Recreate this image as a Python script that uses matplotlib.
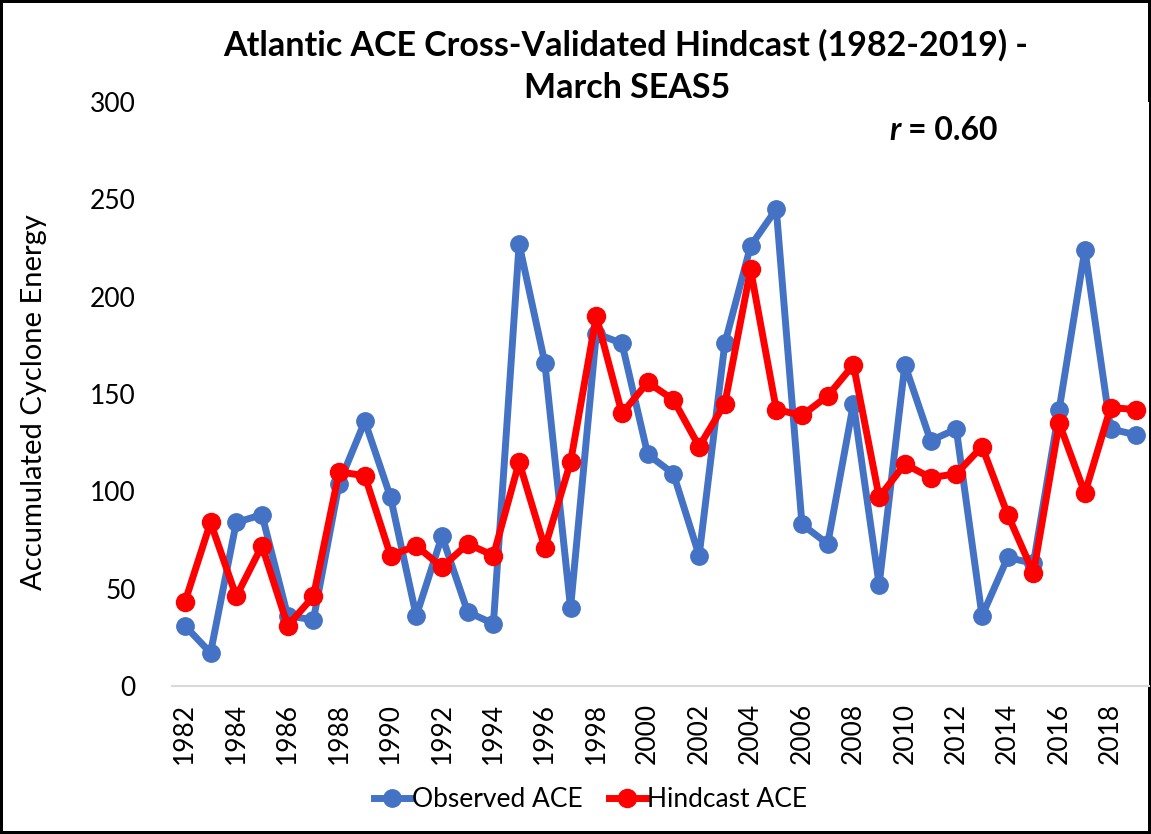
import numpy as np
import matplotlib
matplotlib.use("Agg")
import matplotlib.pyplot as plt

plt.rcParams['font.family'] = ['Lato', 'DejaVu Sans']

# 数据：年份、观测ACE、回报ACE
years = list(range(1982, 2020))
observed = [31, 17, 84, 88, 36, 34, 104, 136, 97, 36, 77, 38, 32,
            227, 166, 40, 181, 176, 119, 109, 67, 176, 226, 245, 83, 73,
            145, 52, 165, 126, 132, 36, 66, 63, 142, 224, 132, 129]
hindcast = [43, 84, 46, 72, 31, 46, 110, 108, 67, 72, 61, 73, 67,
            115, 71, 115, 190, 140, 156, 147, 123, 145, 214, 142, 139, 149,
            165, 97, 114, 107, 109, 123, 88, 58, 135, 99, 143, 142]
tick_years = years[::2]
yticks = [0, 50, 100, 150, 200, 250, 300]

fig = plt.figure(figsize=(11.51, 8.34), dpi=100)
fig.patch.set_edgecolor('black')
fig.patch.set_linewidth(4)
ax = fig.add_axes([0.1494, 0.1775, 0.849, 0.7002])

ax.plot(years, observed, '-o', color='#4472C4', lw=5, markersize=12.5,
        label='Observed ACE')
ax.plot(years, hindcast, '-o', color='#FF0000', lw=5, markersize=13,
        label='Hindcast ACE')

ax.set_xlim(1981.5, 2019.5)
ax.set_ylim(0, 300)
ax.set_yticks(yticks)
ax.set_yticklabels([str(v) for v in yticks], fontsize=19)
ax.set_xticks(tick_years)
ax.set_xticklabels([str(y) for y in tick_years], rotation=90, fontsize=19)
ax.tick_params(axis='both', length=0)
ax.tick_params(axis='y', pad=26)
ax.tick_params(axis='x', pad=12)
for s in ['top', 'right', 'left']:
    ax.spines[s].set_visible(False)
ax.spines['bottom'].set_color('#d9d9d9')
ax.spines['bottom'].set_linewidth(1.5)

fig.text(0.0295, 0.518, 'Accumulated Cyclone Energy', rotation=90,
         ha='center', va='center', fontsize=21)
fig.text(0.544, 0.946, 'Atlantic ACE Cross-Validated Hindcast (1982-2019) -',
         ha='center', va='center', fontsize=24.5, fontweight='bold')
fig.text(0.545, 0.894, 'March SEAS5',
         ha='center', va='center', fontsize=24.5, fontweight='bold')
fig.text(0.773, 0.844, 'r', fontsize=23, ha='left', va='center',
         fontstyle='italic', fontweight='bold')
fig.text(0.789, 0.844, '= 0.60', fontsize=23, ha='left', va='center', fontweight='bold')

fig.legend(loc='center', bbox_to_anchor=(0.513, 0.041), ncol=2, frameon=False,
           fontsize=19, handlelength=1.4, handletextpad=0.05, columnspacing=1.0)

fig.savefig('out.png', dpi=100)
